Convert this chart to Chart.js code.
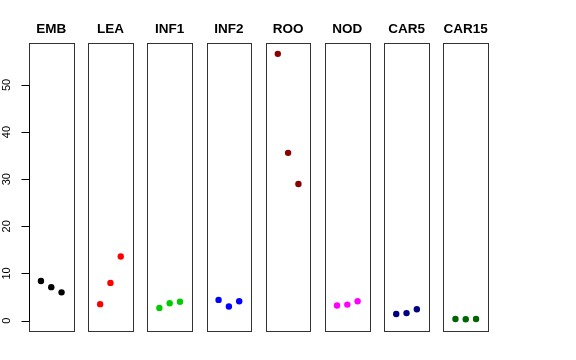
<!DOCTYPE html>
<html>
<head>
<meta charset="utf-8">
<script src="https://cdn.jsdelivr.net/npm/chart.js@4/dist/chart.umd.min.js"></script>
<style>
  html, body { margin: 0; padding: 0; background: #fff; }
  canvas { display: block; }
</style>
</head>
<body>
<canvas id="chart" width="576" height="360"></canvas>
<script>
/* Data: 3 points per group */
let groups = ['EMB', 'LEA', 'INF1', 'INF2', 'ROO', 'NOD', 'CAR5', 'CAR15']
let emb = [8.4, 7.1, 6.0]
let lea = [3.5, 8.0, 13.6]
let inf1 = [2.7, 3.7, 4.0]
let inf2 = [4.4, 3.0, 4.1]
let roo = [56.6, 35.6, 29.0]
let nod = [3.2, 3.4, 4.1]
let car5 = [1.4, 1.6, 2.4]
let car15 = [0.35, 0.3, 0.35]
let yTicks = [0, 10, 20, 30, 40, 50]

let groupValues = [emb, lea, inf1, inf2, roo, nod, car5, car15]
let groupColors = ['#000000', '#ff0000', '#00cd00', '#0000ff', '#8b0000', '#ff00ff', '#000080', '#006400']

// each panel spans x = -0.16 .. 4.16 (points at 1,2,3), panels repeat every STEP units
const STEP = 5.747
const PAD = 0.16

let datasets = groupValues.map(function(vals, i) {
    return {
        label: groups[i],
        data: vals.map(function(v, j) { return { x: i * STEP + j + 1, y: v } }),
        backgroundColor: groupColors[i],
        borderColor: groupColors[i],
        pointRadius: 3.2,
        pointHoverRadius: 3.2,
        borderWidth: 0
    }
})

// draws a box round each panel, its title on top, and the y tick marks
let panelPlugin = {
    id: 'panels',
    afterDatasetsDraw(chart) {
        let ctx = chart.ctx
        let xs = chart.scales.x
        let ys = chart.scales.y
        let area = chart.chartArea
        ctx.save()
        ctx.strokeStyle = '#333'
        ctx.lineWidth = 1
        ctx.fillStyle = '#000'
        ctx.font = 'bold 13.5px "Liberation Sans", Arial, sans-serif'
        ctx.textAlign = 'center'
        ctx.textBaseline = 'middle'
        groups.forEach(function(name, i) {
            let left = Math.round(xs.getPixelForValue(i * STEP - PAD)) + 0.5
            let right = Math.round(xs.getPixelForValue(i * STEP + 4 + PAD)) + 0.5
            let top = Math.round(area.top) + 0.5
            let bottom = Math.round(area.bottom) + 0.5
            ctx.strokeRect(left, top, right - left, bottom - top)
            ctx.fillText(name, xs.getPixelForValue(i * STEP + 2), 29.5)
        })
        // y axis line and ticks, R style
        let axisX = Math.round(area.left) + 0.5
        ctx.strokeStyle = '#000'
        ctx.beginPath()
        ctx.moveTo(axisX, Math.round(ys.getPixelForValue(yTicks[0])) + 0.5)
        ctx.lineTo(axisX, Math.round(ys.getPixelForValue(yTicks[yTicks.length - 1])) + 0.5)
        yTicks.forEach(function(v) {
            let py = Math.round(ys.getPixelForValue(v)) + 0.5
            ctx.moveTo(axisX - 8, py)
            ctx.lineTo(axisX, py)
        })
        ctx.stroke()
        ctx.restore()
    }
}

let chartCtx = document.querySelector('#chart').getContext('2d')

let chart = new Chart(chartCtx, {
    type: 'scatter',
    data: { datasets: datasets },
    options: {
        responsive: false,
        animation: false,
        devicePixelRatio: 1,
        layout: { padding: { left: 0, top: 43, right: 88, bottom: 29 } },
        plugins: {
            legend: { display: false },
            tooltip: { enabled: false }
        },
        scales: {
            x: {
                type: 'linear',
                display: false,
                min: -PAD,
                max: 7 * STEP + 4 + PAD
            },
            y: {
                type: 'linear',
                min: -2.2,
                max: 58.9,
                afterFit: function(scale) { scale.width = 29 },
                afterBuildTicks: function(scale) {
                    scale.ticks = yTicks.map(function(v) { return { value: v } })
                },
                border: { display: false },
                grid: { display: false, tickLength: 8 },
                ticks: {
                    minRotation: 90,
                    maxRotation: 90,
                    crossAlign: 'center',
                    padding: 8,
                    color: '#000',
                    font: { family: '"Liberation Sans", Arial, sans-serif', size: 11 }
                }
            }
        }
    },
    plugins: [panelPlugin]
})
</script>
</body>
</html>
